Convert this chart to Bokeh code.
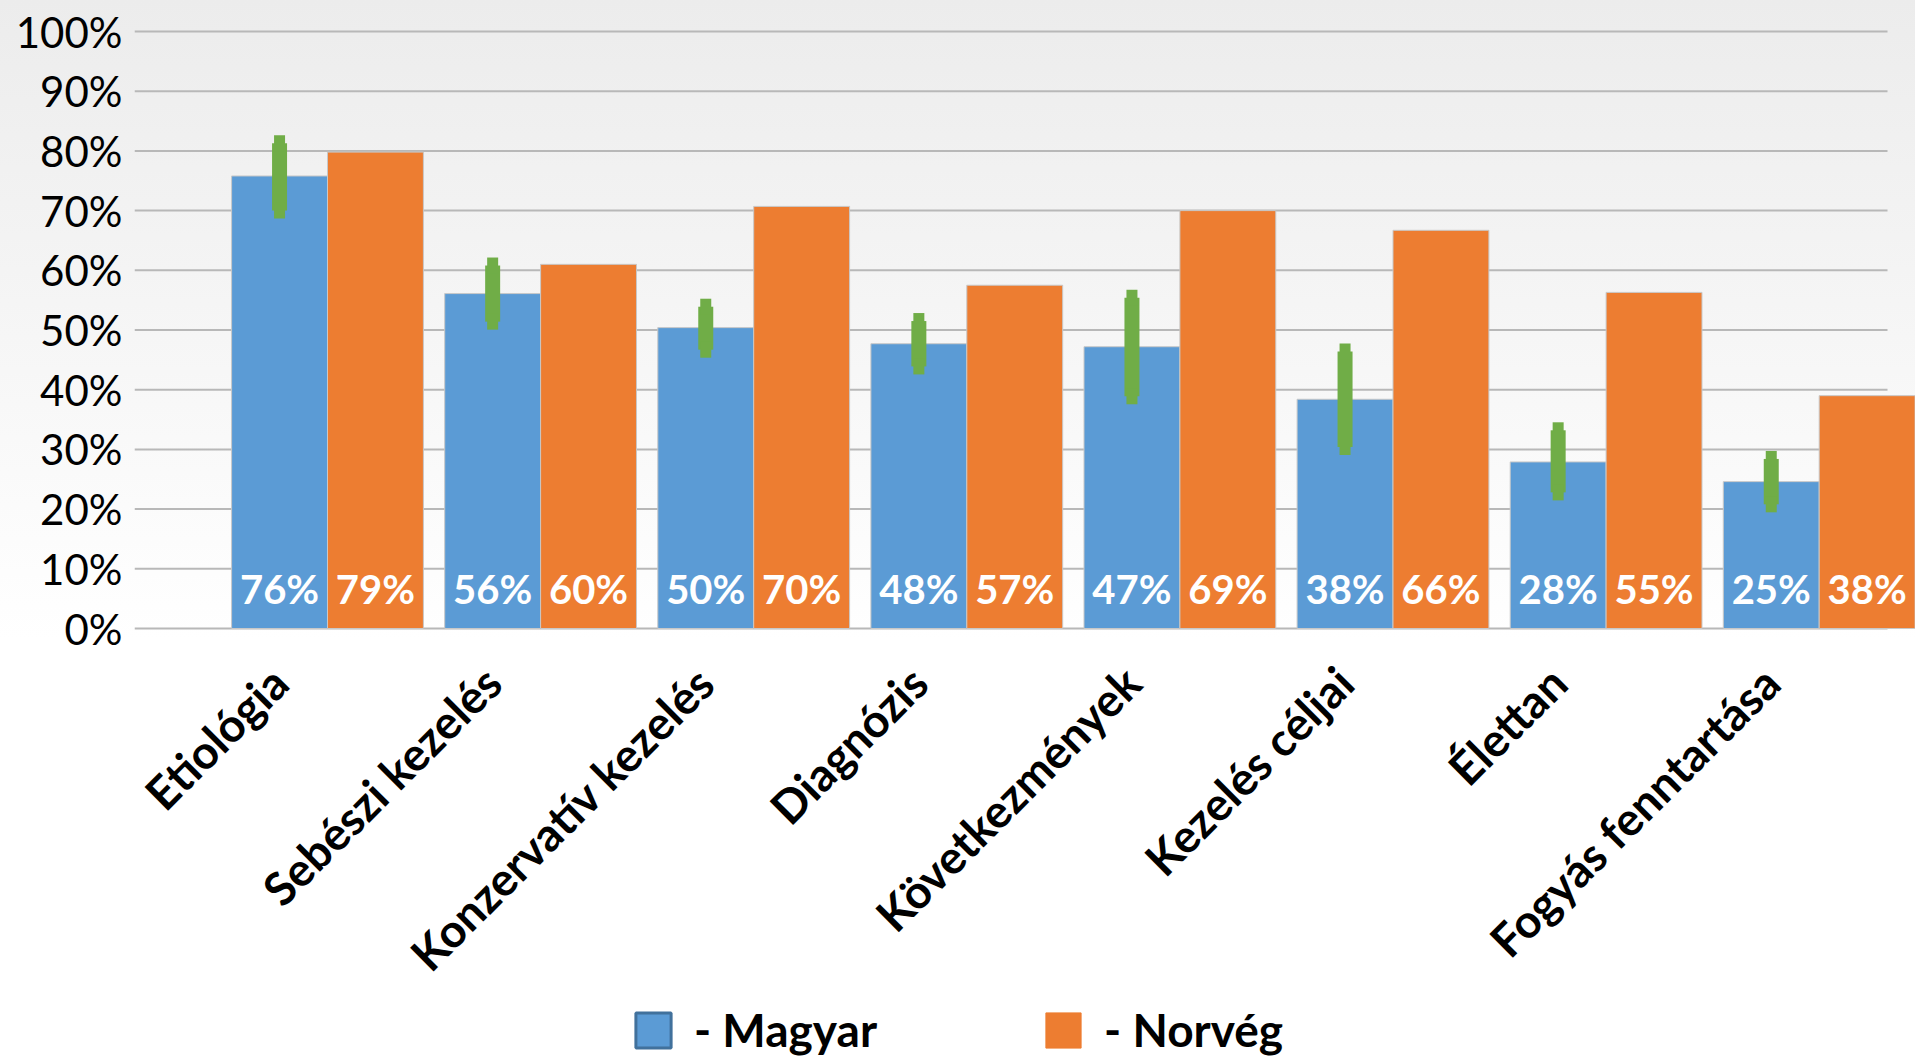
import math
from bokeh.plotting import figure
from bokeh.models import ColumnDataSource, Range1d, FixedTicker, Legend, LegendItem
from bokeh.core.properties import value
from bokeh.embed import file_html
from bokeh.resources import INLINE

# ---------------- data ----------------
categories = ["Etiológia", "Sebészi kezelés", "Konzervatív kezelés", "Diagnózis",
              "Következmények", "Kezelés céljai", "Élettan", "Fogyás fenntartása"]
magyar = [75.8, 56.1, 50.4, 47.7, 47.2, 38.4, 27.9, 24.6]
norveg = [79.8, 61.0, 70.7, 57.5, 70.0, 66.7, 56.3, 39.0]
magyar_labels = ["76%", "56%", "50%", "48%", "47%", "38%", "28%", "25%"]
norveg_labels = ["79%", "60%", "70%", "57%", "69%", "66%", "55%", "38%"]
magyar_err_low = [70.0, 51.4, 46.7, 43.9, 38.9, 30.4, 22.8, 20.8]
magyar_err_high = [81.3, 60.8, 53.9, 51.5, 55.4, 46.4, 33.2, 28.4]
y_ticks = [0, 10, 20, 30, 40, 50, 60, 70, 80, 90, 100]
y_tick_labels = ["0%", "10%", "20%", "30%", "40%", "50%", "60%", "70%", "80%", "90%", "100%"]
series_names = ["- Magyar", "- Norvég"]

# ---------------- style / layout ----------------
BLUE = "#5b9bd5"
ORANGE = "#ed7d31"
GREEN = "#70ad47"
FONT = "Lato"

W, H = 1915, 1057
FRAME_L, FRAME_T = 134, 25
FRAME_W, FRAME_H = W - FRAME_L, H - FRAME_T
ZERO_Y = 628               # px of the 0% line
PX_PER_UNIT = 5.97         # px per percentage point
PITCH = 213.1              # px per category
FIRST_CENTER = 327         # px of first category centre
X0 = -(FIRST_CENTER - FRAME_L) / PITCH
X1 = X0 + FRAME_W / PITCH
GRID_END = X0 + (1887 - FRAME_L) / PITCH
Y1 = (ZERO_Y - FRAME_T) / PX_PER_UNIT
Y0 = -(H - ZERO_Y) / PX_PER_UNIT
BAR_W = 0.45
LABEL_SHIFT = -48 / PITCH
CAT_LABEL_Y = -46 / PX_PER_UNIT

idx = list(range(len(categories)))
xb = [i - BAR_W / 2 for i in idx]
xo = [i + BAR_W / 2 for i in idx]
xt = [i + LABEL_SHIFT for i in idx]

p = figure(frame_width=FRAME_W, frame_height=FRAME_H,
           x_range=Range1d(X0, X1), y_range=Range1d(Y0, Y1),
           output_backend="svg", toolbar_location=None,
           min_border_left=FRAME_L, min_border_top=FRAME_T,
           min_border_right=0, min_border_bottom=0)
p.background_fill_color = None
p.border_fill_color = None
p.outline_line_color = None
p.styles = {"background": "linear-gradient(to bottom, #ececec 0px, #ffffff 640px)"}
p.xgrid.visible = False
p.ygrid.visible = False
p.xaxis.visible = False

# gridlines
p.segment(x0=[X0] * len(y_ticks), x1=[GRID_END] * len(y_ticks), y0=y_ticks, y1=y_ticks,
          line_color="#b8b8b8", line_width=2)

src = ColumnDataSource(dict(xb=xb, xo=xo, xt=xt, cat=categories,
                            magyar=magyar, norveg=norveg,
                            ml=magyar_labels, nl=norveg_labels,
                            lo=magyar_err_low, hi=magyar_err_high))

p.vbar(x="xb", top="magyar", width=BAR_W, source=src, fill_color=BLUE,
       line_color="#c8c8c8", line_width=1)
p.vbar(x="xo", top="norveg", width=BAR_W, source=src, fill_color=ORANGE,
       line_color="#c8c8c8", line_width=1)

# error bars
p.segment(x0="xb", x1="xb", y0="lo", y1="hi", source=src, line_color=GREEN,
          line_width=15, line_cap="butt")
p.rect(x="xb", y="hi", width=11, height=16, width_units="screen", height_units="screen",
       source=src, fill_color=GREEN, line_color=None)
p.rect(x="xb", y="lo", width=11, height=16, width_units="screen", height_units="screen",
       source=src, fill_color=GREEN, line_color=None)

# data labels inside base
lab_y = 40 / PX_PER_UNIT
for col, xcol in (("ml", "xb"), ("nl", "xo")):
    p.text(x=xcol, y=lab_y, text=col, source=src, text_color="white",
           text_font=value(FONT), text_font_style="bold", text_font_size="40px",
           text_align="center", text_baseline="alphabetic")

# category labels (rotated)
p.text(x="xt", y=CAT_LABEL_Y, text="cat", source=src, angle=math.pi / 4,
       text_color="black", text_font=value(FONT), text_font_style="bold",
       text_font_size="46px", text_align="right", text_baseline="middle")

# y axis
p.yaxis.ticker = FixedTicker(ticks=y_ticks)
p.yaxis.major_label_overrides = {t: l for t, l in zip(y_ticks, y_tick_labels)}
p.yaxis.axis_line_color = None
p.yaxis.major_tick_line_color = None
p.yaxis.minor_tick_line_color = None
p.yaxis.major_tick_out = 0
p.yaxis.major_tick_in = 0
p.yaxis.major_label_standoff = 12
p.yaxis.major_label_text_font = FONT
p.yaxis.major_label_text_font_size = "42px"
p.yaxis.major_label_text_color = "black"

# legend (proxy renderers placed outside the visible range)
OFF = X0 - 50
leg_m = p.rect(x=[OFF], y=[0], width=1, height=1, fill_color=BLUE,
               line_color="#41719c", line_width=3)
leg_n = p.rect(x=[OFF], y=[0], width=1, height=1, fill_color=ORANGE,
               line_color=ORANGE, line_width=1)
legend = Legend(items=[LegendItem(label=series_names[0], renderers=[leg_m]),
                       LegendItem(label=series_names[1], renderers=[leg_n])],
                location=(497, 0), orientation="horizontal",
                glyph_width=44, glyph_height=44, label_standoff=19, spacing=164,
                padding=0, margin=0, border_line_alpha=0, background_fill_alpha=0,
                label_text_font=FONT, label_text_font_size="46px",
                label_text_font_style="bold", label_text_color="black")
p.add_layout(legend, "center")

open("out.html", "w").write(file_html(p, INLINE))
